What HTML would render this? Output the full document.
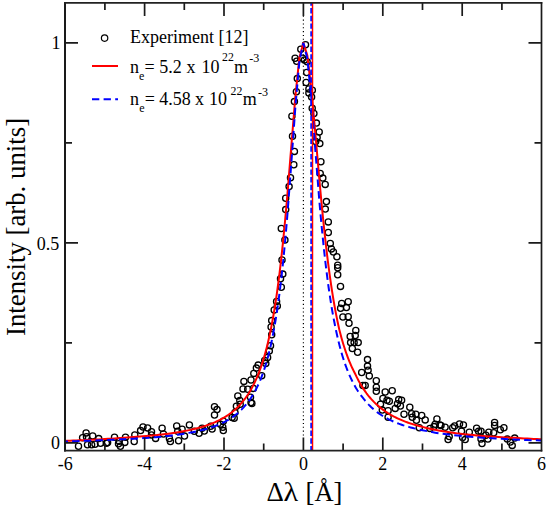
<!DOCTYPE html>
<html><head><meta charset="utf-8"><style>
html,body{margin:0;padding:0;background:#fff;width:550px;height:512px;overflow:hidden}
svg{display:block}
text{font-family:"Liberation Serif",serif;fill:#000}
</style></head><body>
<svg width="550" height="512" viewBox="0 0 550 512">
<rect width="550" height="512" fill="#fff"/>
<path d="M303.4,16 V437" stroke="#000" stroke-width="1.2" stroke-dasharray="1.1 2.7417" stroke-dashoffset="0.2917" fill="none"/>
<g fill="none" stroke="#000" stroke-width="1.3">
<circle cx="86.1" cy="432.9" r="3.1"/>
<circle cx="82.6" cy="437.8" r="3.1"/>
<circle cx="86.5" cy="436.8" r="3.1"/>
<circle cx="92.7" cy="435.9" r="3.1"/>
<circle cx="98.7" cy="438.6" r="3.1"/>
<circle cx="78.5" cy="446.3" r="3.1"/>
<circle cx="87.5" cy="444.7" r="3.1"/>
<circle cx="91.6" cy="444.8" r="3.1"/>
<circle cx="95" cy="444.2" r="3.1"/>
<circle cx="100.5" cy="443.3" r="3.1"/>
<circle cx="107.6" cy="442.6" r="3.1"/>
<circle cx="114.5" cy="437.2" r="3.1"/>
<circle cx="118.5" cy="443.7" r="3.1"/>
<circle cx="120.4" cy="446.3" r="3.1"/>
<circle cx="125.5" cy="437.2" r="3.1"/>
<circle cx="124.8" cy="442.4" r="3.1"/>
<circle cx="134.2" cy="441.5" r="3.1"/>
<circle cx="134.8" cy="435" r="3.1"/>
<circle cx="140.6" cy="430.6" r="3.1"/>
<circle cx="143" cy="427" r="3.1"/>
<circle cx="147.6" cy="427.9" r="3.1"/>
<circle cx="151.5" cy="431.8" r="3.1"/>
<circle cx="151.5" cy="434.9" r="3.1"/>
<circle cx="155.6" cy="438.4" r="3.1"/>
<circle cx="162.1" cy="428.3" r="3.1"/>
<circle cx="163.4" cy="434" r="3.1"/>
<circle cx="169.4" cy="438.5" r="3.1"/>
<circle cx="170.4" cy="441.5" r="3.1"/>
<circle cx="176.7" cy="425.9" r="3.1"/>
<circle cx="177.7" cy="431.2" r="3.1"/>
<circle cx="178.6" cy="440.8" r="3.1"/>
<circle cx="182.1" cy="429.3" r="3.1"/>
<circle cx="184.5" cy="436.1" r="3.1"/>
<circle cx="189.4" cy="424.9" r="3.1"/>
<circle cx="194.3" cy="431.2" r="3.1"/>
<circle cx="199.1" cy="433.2" r="3.1"/>
<circle cx="202.1" cy="428.3" r="3.1"/>
<circle cx="214.5" cy="406.7" r="3.1"/>
<circle cx="217" cy="409.6" r="3.1"/>
<circle cx="214.5" cy="415" r="3.1"/>
<circle cx="204.3" cy="431.1" r="3.1"/>
<circle cx="210.6" cy="426.2" r="3.1"/>
<circle cx="212.1" cy="429.1" r="3.1"/>
<circle cx="220.4" cy="424.3" r="3.1"/>
<circle cx="223.3" cy="421.3" r="3.1"/>
<circle cx="222.8" cy="427.2" r="3.1"/>
<circle cx="223.3" cy="430.6" r="3.1"/>
<circle cx="232.1" cy="417.4" r="3.1"/>
<circle cx="234.2" cy="418.2" r="3.1"/>
<circle cx="235" cy="412.6" r="3.1"/>
<circle cx="236.4" cy="406.2" r="3.1"/>
<circle cx="237.8" cy="395.9" r="3.1"/>
<circle cx="240.2" cy="404.3" r="3.1"/>
<circle cx="243" cy="388.9" r="3.1"/>
<circle cx="243.9" cy="381.4" r="3.1"/>
<circle cx="247.7" cy="389.3" r="3.1"/>
<circle cx="251" cy="380" r="3.1"/>
<circle cx="253.3" cy="388.4" r="3.1"/>
<circle cx="250.5" cy="397.3" r="3.1"/>
<circle cx="251" cy="402.5" r="3.1"/>
<circle cx="251.9" cy="403.4" r="3.1"/>
<circle cx="253.8" cy="373.4" r="3.1"/>
<circle cx="271.7" cy="320.6" r="3.1"/>
<circle cx="271.1" cy="327" r="3.1"/>
<circle cx="271.7" cy="334.7" r="3.1"/>
<circle cx="270.5" cy="345.8" r="3.1"/>
<circle cx="269.3" cy="351.1" r="3.1"/>
<circle cx="267.6" cy="357.5" r="3.1"/>
<circle cx="264.7" cy="360.4" r="3.1"/>
<circle cx="265.8" cy="363.4" r="3.1"/>
<circle cx="258.2" cy="365.1" r="3.1"/>
<circle cx="256.4" cy="368.1" r="3.1"/>
<circle cx="261.7" cy="375.7" r="3.1"/>
<circle cx="282" cy="260" r="3.1"/>
<circle cx="282.8" cy="274.1" r="3.1"/>
<circle cx="280.5" cy="278.8" r="3.1"/>
<circle cx="281.3" cy="287.3" r="3.1"/>
<circle cx="276.6" cy="301.4" r="3.1"/>
<circle cx="277.3" cy="306.1" r="3.1"/>
<circle cx="274.2" cy="310" r="3.1"/>
<circle cx="289.1" cy="186.6" r="3.1"/>
<circle cx="285.7" cy="198.3" r="3.1"/>
<circle cx="285.7" cy="209.6" r="3.1"/>
<circle cx="281.3" cy="228.5" r="3.1"/>
<circle cx="284.9" cy="240.1" r="3.1"/>
<circle cx="296.4" cy="91.8" r="3.1"/>
<circle cx="294.4" cy="101.6" r="3.1"/>
<circle cx="291.9" cy="116.3" r="3.1"/>
<circle cx="292.5" cy="136.2" r="3.1"/>
<circle cx="294.4" cy="151.4" r="3.1"/>
<circle cx="293.8" cy="164.7" r="3.1"/>
<circle cx="290.5" cy="177.8" r="3.1"/>
<circle cx="305.5" cy="44.8" r="3.1"/>
<circle cx="300.8" cy="49.3" r="3.1"/>
<circle cx="295.1" cy="58.2" r="3.1"/>
<circle cx="296.7" cy="61.2" r="3.1"/>
<circle cx="302.7" cy="58.2" r="3.1"/>
<circle cx="304.4" cy="60.1" r="3.1"/>
<circle cx="307.1" cy="61.7" r="3.1"/>
<circle cx="306.7" cy="72.5" r="3.1"/>
<circle cx="297.3" cy="78.6" r="3.1"/>
<circle cx="306.1" cy="82.5" r="3.1"/>
<circle cx="308.9" cy="88.9" r="3.1"/>
<circle cx="312.3" cy="90.3" r="3.1"/>
<circle cx="308.9" cy="93" r="3.1"/>
<circle cx="311.6" cy="97.1" r="3.1"/>
<circle cx="312.2" cy="108.3" r="3.1"/>
<circle cx="313.9" cy="113.5" r="3.1"/>
<circle cx="316.4" cy="123.1" r="3.1"/>
<circle cx="319.2" cy="132" r="3.1"/>
<circle cx="317.1" cy="137.5" r="3.1"/>
<circle cx="315.7" cy="141.6" r="3.1"/>
<circle cx="319.8" cy="143.6" r="3.1"/>
<circle cx="320.9" cy="161.7" r="3.1"/>
<circle cx="320.2" cy="173.4" r="3.1"/>
<circle cx="322.8" cy="178.1" r="3.1"/>
<circle cx="325.2" cy="184.4" r="3.1"/>
<circle cx="326.4" cy="201.6" r="3.1"/>
<circle cx="325.3" cy="209.1" r="3.1"/>
<circle cx="328.3" cy="221.9" r="3.1"/>
<circle cx="328.3" cy="232.5" r="3.1"/>
<circle cx="330.3" cy="243.4" r="3.1"/>
<circle cx="331.4" cy="248.9" r="3.1"/>
<circle cx="333.4" cy="252" r="3.1"/>
<circle cx="336.9" cy="256.7" r="3.1"/>
<circle cx="337.7" cy="265.3" r="3.1"/>
<circle cx="337.7" cy="267.7" r="3.1"/>
<circle cx="337.7" cy="274.7" r="3.1"/>
<circle cx="340.5" cy="286.4" r="3.1"/>
<circle cx="341.7" cy="303.5" r="3.1"/>
<circle cx="348.2" cy="301.7" r="3.1"/>
<circle cx="340.6" cy="308.2" r="3.1"/>
<circle cx="346.4" cy="307.6" r="3.1"/>
<circle cx="342.9" cy="317" r="3.1"/>
<circle cx="348.2" cy="316.7" r="3.1"/>
<circle cx="349" cy="323.2" r="3.1"/>
<circle cx="355.8" cy="330.4" r="3.1"/>
<circle cx="355.2" cy="335.5" r="3.1"/>
<circle cx="350.2" cy="336.5" r="3.1"/>
<circle cx="350.6" cy="342.6" r="3.1"/>
<circle cx="354.1" cy="342.6" r="3.1"/>
<circle cx="358.2" cy="342.6" r="3.1"/>
<circle cx="352.3" cy="348.5" r="3.1"/>
<circle cx="357.6" cy="352.3" r="3.1"/>
<circle cx="367.5" cy="359.6" r="3.1"/>
<circle cx="367.5" cy="366.1" r="3.1"/>
<circle cx="368.1" cy="370.2" r="3.1"/>
<circle cx="361.7" cy="372.5" r="3.1"/>
<circle cx="369.3" cy="376" r="3.1"/>
<circle cx="362.9" cy="385.4" r="3.1"/>
<circle cx="365.2" cy="385.4" r="3.1"/>
<circle cx="376.3" cy="380.7" r="3.1"/>
<circle cx="376.3" cy="387.2" r="3.1"/>
<circle cx="376.3" cy="391.3" r="3.1"/>
<circle cx="385.2" cy="392" r="3.1"/>
<circle cx="392.2" cy="390.8" r="3.1"/>
<circle cx="382.9" cy="398.4" r="3.1"/>
<circle cx="387" cy="400.2" r="3.1"/>
<circle cx="389.3" cy="401.3" r="3.1"/>
<circle cx="380.5" cy="404.3" r="3.1"/>
<circle cx="382.3" cy="410.1" r="3.1"/>
<circle cx="388.1" cy="410.7" r="3.1"/>
<circle cx="388.1" cy="417.2" r="3.1"/>
<circle cx="398.7" cy="399.6" r="3.1"/>
<circle cx="401.6" cy="400.2" r="3.1"/>
<circle cx="397.5" cy="403.7" r="3.1"/>
<circle cx="400.4" cy="406" r="3.1"/>
<circle cx="395.2" cy="408.4" r="3.1"/>
<circle cx="404" cy="414.2" r="3.1"/>
<circle cx="409.8" cy="407.2" r="3.1"/>
<circle cx="411.7" cy="413.7" r="3.1"/>
<circle cx="415.8" cy="414.3" r="3.1"/>
<circle cx="412.3" cy="417.2" r="3.1"/>
<circle cx="416.4" cy="420.2" r="3.1"/>
<circle cx="421.7" cy="415.5" r="3.1"/>
<circle cx="425.2" cy="419.9" r="3.1"/>
<circle cx="419.3" cy="427.8" r="3.1"/>
<circle cx="429.9" cy="428.4" r="3.1"/>
<circle cx="436.9" cy="419" r="3.1"/>
<circle cx="435.2" cy="424.3" r="3.1"/>
<circle cx="439.9" cy="424.9" r="3.1"/>
<circle cx="434" cy="426.6" r="3.1"/>
<circle cx="445.1" cy="427.2" r="3.1"/>
<circle cx="448.1" cy="439.5" r="3.1"/>
<circle cx="449.2" cy="436.6" r="3.1"/>
<circle cx="441" cy="425.4" r="3.1"/>
<circle cx="452.7" cy="427.8" r="3.1"/>
<circle cx="454.6" cy="425.9" r="3.1"/>
<circle cx="459.5" cy="423.9" r="3.1"/>
<circle cx="463.4" cy="424.9" r="3.1"/>
<circle cx="461.5" cy="431.3" r="3.1"/>
<circle cx="462.6" cy="437.5" r="3.1"/>
<circle cx="465.2" cy="439.6" r="3.1"/>
<circle cx="469.3" cy="432.2" r="3.1"/>
<circle cx="476.6" cy="428.3" r="3.1"/>
<circle cx="478.6" cy="431.3" r="3.1"/>
<circle cx="481" cy="439.1" r="3.1"/>
<circle cx="482" cy="443.5" r="3.1"/>
<circle cx="485.9" cy="435.2" r="3.1"/>
<circle cx="488.8" cy="432.2" r="3.1"/>
<circle cx="487.9" cy="439.1" r="3.1"/>
<circle cx="481" cy="431.3" r="3.1"/>
<circle cx="494.6" cy="422.5" r="3.1"/>
<circle cx="494.6" cy="425.4" r="3.1"/>
<circle cx="493.7" cy="432.7" r="3.1"/>
<circle cx="500.3" cy="429.8" r="3.1"/>
<circle cx="503.9" cy="427.8" r="3.1"/>
<circle cx="507.3" cy="439.1" r="3.1"/>
<circle cx="510.3" cy="442" r="3.1"/>
<circle cx="512.2" cy="445.4" r="3.1"/>
<circle cx="514.7" cy="438.1" r="3.1"/>
<circle cx="106.4" cy="443.3" r="3.1"/>
<circle cx="119.2" cy="441.3" r="3.1"/>
<circle cx="239.8" cy="400.5" r="3.1"/>
</g>
<path d="M65.20,440.89 L66.79,440.84 L69.96,440.72 L73.14,440.60 L76.32,440.48 L79.49,440.34 L82.67,440.20 L85.84,440.06 L89.02,439.91 L92.20,439.75 L95.37,439.58 L98.55,439.41 L101.72,439.22 L104.90,439.02 L108.08,438.86 L111.25,438.68 L114.43,438.49 L117.60,438.29 L120.78,438.08 L123.96,437.86 L127.13,437.62 L130.31,437.37 L133.48,437.11 L136.66,436.83 L139.84,436.59 L143.01,436.34 L146.19,436.08 L149.36,435.79 L152.54,435.49 L155.72,435.17 L158.89,434.83 L162.07,434.47 L165.24,434.08 L168.42,433.67 L171.60,433.22 L174.77,432.75 L177.95,432.24 L181.12,431.68 L184.30,431.09 L185.49,430.86 L186.68,430.63 L187.87,430.39 L189.06,430.14 L190.25,429.88 L191.45,429.62 L192.64,429.35 L193.83,429.07 L195.02,428.78 L196.21,428.48 L197.40,428.17 L198.59,427.85 L199.78,427.52 L200.97,427.18 L202.16,426.83 L203.36,426.47 L204.55,426.09 L205.74,425.71 L206.93,425.30 L208.12,424.89 L209.31,424.46 L210.50,424.01 L211.69,423.55 L212.88,423.07 L214.07,422.57 L215.27,422.05 L216.46,421.52 L217.65,420.96 L218.84,420.38 L220.03,419.78 L221.22,419.15 L222.41,418.50 L223.60,417.82 L224.79,417.11 L225.98,416.37 L227.18,415.60 L228.37,414.80 L229.56,413.96 L230.75,413.09 L231.94,412.17 L233.13,411.22 L234.32,410.21 L235.51,409.16 L236.70,408.07 L237.89,406.91 L239.09,405.70 L240.28,404.44 L241.47,403.10 L242.66,401.70 L243.85,400.23 L244.64,399.20 L245.44,398.14 L246.23,397.04 L247.03,395.90 L247.82,394.72 L248.61,393.49 L249.41,392.22 L250.20,390.91 L251.00,389.54 L251.79,388.12 L252.58,386.65 L253.38,385.12 L254.17,383.53 L254.97,381.88 L255.76,380.16 L256.55,378.37 L257.35,376.51 L258.14,374.57 L258.94,372.55 L259.73,370.45 L260.52,368.26 L261.32,365.98 L262.11,363.59 L262.91,361.11 L263.70,358.51 L264.49,355.80 L265.29,352.97 L266.08,350.02 L266.88,346.93 L267.67,343.70 L268.46,340.32 L269.26,336.79 L270.05,333.09 L270.85,329.23 L271.64,325.18 L272.43,320.95 L273.23,316.51 L274.02,311.87 L274.82,307.02 L275.61,301.93 L276.40,296.61 L277.20,291.05 L277.99,285.22 L278.79,279.13 L279.58,272.77 L280.37,266.13 L281.17,259.20 L281.96,251.97 L282.76,244.45 L283.55,236.62 L284.34,228.50 L285.14,220.08 L285.93,211.37 L286.73,202.38 L287.52,193.14 L291.49,144.10 L295.46,95.29 L299.43,57.47 L303.40,42.95 L307.37,55.65 L311.34,89.05 L315.31,133.10 L319.28,178.66 L320.07,187.41 L320.87,195.96 L321.66,204.30 L322.46,212.42 L323.25,220.29 L324.04,227.92 L324.84,235.30 L325.63,242.42 L326.43,249.29 L327.22,255.91 L328.01,262.28 L328.81,268.41 L329.60,274.29 L330.40,279.95 L331.19,285.37 L331.98,290.58 L332.78,295.58 L333.57,300.38 L334.37,304.97 L335.16,309.38 L335.95,313.61 L336.75,317.67 L337.54,321.56 L338.34,325.29 L339.13,328.87 L339.92,332.03 L340.72,335.07 L341.51,337.99 L342.31,340.79 L343.10,343.48 L343.89,346.06 L344.69,348.54 L345.48,350.93 L346.28,353.22 L347.07,355.43 L347.86,357.55 L348.66,359.60 L349.45,361.56 L350.25,363.46 L351.04,365.29 L351.83,367.05 L352.63,368.75 L353.42,370.39 L354.22,371.98 L355.01,373.50 L355.80,375.20 L356.60,376.84 L357.39,378.42 L358.19,379.95 L358.98,381.43 L359.77,382.86 L360.57,384.24 L361.36,385.58 L362.16,386.87 L362.95,388.12 L364.14,389.92 L365.33,391.63 L366.52,393.27 L367.71,394.83 L368.90,396.32 L370.10,397.74 L371.29,399.10 L372.48,400.40 L373.67,401.65 L374.86,402.84 L376.05,403.98 L377.24,405.08 L378.43,406.12 L379.62,407.13 L380.81,408.10 L382.01,409.02 L383.20,409.91 L384.39,410.77 L385.58,411.59 L386.77,412.38 L387.96,413.15 L389.15,413.88 L390.34,414.59 L391.53,415.27 L392.72,415.93 L393.92,416.56 L395.11,417.17 L396.30,417.76 L397.49,418.33 L398.68,418.88 L399.87,419.42 L401.06,419.93 L402.25,420.43 L403.44,420.91 L404.63,421.38 L405.83,421.83 L407.02,422.26 L408.21,422.69 L409.40,423.10 L410.59,423.49 L411.78,423.88 L412.97,424.25 L414.16,424.62 L415.35,424.97 L416.54,425.31 L417.74,425.64 L418.93,425.96 L420.12,426.28 L421.31,426.58 L422.50,426.88 L425.68,427.70 L428.85,428.46 L432.03,429.17 L435.20,429.83 L438.38,430.44 L441.56,431.01 L444.73,431.55 L447.91,432.05 L451.08,432.52 L454.26,432.96 L457.44,433.38 L460.61,433.77 L463.79,434.13 L466.96,434.48 L470.14,434.81 L473.32,435.11 L476.49,435.41 L479.67,435.68 L482.84,435.94 L486.02,436.18 L489.20,436.40 L492.37,436.62 L495.55,436.82 L498.72,437.02 L501.90,437.20 L505.08,437.38 L508.25,437.55 L511.43,437.71 L514.60,437.87 L517.78,438.07 L520.96,438.25 L524.13,438.43 L527.31,438.60 L530.48,438.76 L533.66,438.91 L536.84,439.05 L540.01,439.19 L541.60,439.26" fill="none" stroke="#f00" stroke-width="2" stroke-linejoin="round"/>
<path d="M65.20,441.47 L66.79,441.43 L69.96,441.33 L73.14,441.23 L76.32,441.13 L79.49,441.01 L82.67,440.90 L85.84,440.77 L89.02,440.66 L92.20,440.55 L95.37,440.43 L98.55,440.30 L101.72,440.16 L104.90,440.01 L108.08,439.89 L111.25,439.77 L114.43,439.63 L117.60,439.49 L120.78,439.34 L123.96,439.19 L127.13,439.02 L130.31,438.84 L133.48,438.66 L136.66,438.49 L139.84,438.31 L143.01,438.11 L146.19,437.91 L149.36,437.69 L152.54,437.46 L155.72,437.19 L158.89,436.91 L162.07,436.60 L165.24,436.28 L168.42,435.93 L171.60,435.55 L174.77,435.14 L177.95,434.71 L181.12,434.23 L184.30,433.72 L185.49,433.52 L186.68,433.31 L187.87,433.09 L189.06,432.87 L190.25,432.64 L191.45,432.41 L192.64,432.17 L193.83,431.93 L195.02,431.69 L196.21,431.44 L197.40,431.18 L198.59,430.91 L199.78,430.64 L200.97,430.35 L202.16,430.06 L203.36,429.75 L204.55,429.43 L205.74,429.10 L206.93,428.77 L208.12,428.41 L209.31,428.05 L210.50,427.67 L211.69,427.28 L212.88,426.87 L214.07,426.45 L215.27,426.01 L216.46,425.55 L217.65,425.07 L218.84,424.58 L220.03,424.06 L221.22,423.53 L222.41,422.97 L223.60,422.39 L224.79,421.78 L225.98,421.15 L227.18,420.48 L228.37,419.79 L229.56,419.07 L230.75,418.31 L231.94,417.52 L233.13,416.69 L234.32,415.82 L235.51,414.91 L236.70,413.96 L237.89,412.96 L239.09,411.90 L240.28,410.79 L241.47,409.63 L242.66,408.40 L243.85,407.11 L244.64,406.21 L245.44,405.27 L246.23,404.30 L247.03,403.30 L247.82,402.25 L248.61,401.21 L249.41,400.13 L250.20,399.01 L251.00,397.84 L251.79,396.63 L252.58,395.37 L253.38,394.06 L254.17,392.70 L254.97,391.28 L255.76,389.80 L256.55,388.26 L257.35,386.65 L258.14,384.98 L258.94,383.23 L259.73,381.41 L260.52,379.51 L261.32,377.52 L262.11,375.44 L262.91,373.26 L263.70,370.99 L264.49,368.61 L265.29,366.12 L266.08,363.51 L266.88,360.77 L267.67,357.90 L268.46,354.89 L269.26,351.73 L270.05,348.42 L270.85,344.93 L271.64,341.28 L272.43,337.43 L273.23,333.39 L274.02,329.15 L274.82,324.68 L275.61,319.98 L276.40,315.03 L277.20,309.83 L277.99,304.36 L278.79,298.61 L279.58,292.55 L280.37,286.19 L281.17,279.51 L281.96,272.48 L282.76,265.12 L283.55,257.39 L284.34,249.30 L285.14,240.85 L285.93,232.02 L286.73,222.83 L287.52,213.28 L291.49,160.91 L295.46,105.79 L299.43,60.80 L303.40,42.95 L307.37,58.60 L311.34,98.86 L315.31,149.88 L319.28,200.12 L320.07,209.20 L320.87,217.99 L321.66,226.46 L322.46,234.61 L323.25,242.45 L324.04,249.97 L324.84,257.17 L325.63,264.07 L326.43,270.67 L327.22,276.97 L328.01,282.99 L328.81,288.74 L329.60,294.23 L330.40,299.47 L331.19,304.47 L331.98,309.24 L332.78,313.80 L333.57,318.15 L334.37,322.29 L335.16,326.25 L335.95,330.11 L336.75,333.79 L337.54,337.31 L338.34,340.67 L339.13,343.88 L339.92,346.96 L340.72,349.90 L341.51,352.71 L342.31,355.41 L343.10,357.99 L343.89,360.46 L344.69,362.83 L345.48,365.10 L346.28,367.27 L347.07,369.36 L347.86,371.37 L348.66,373.30 L349.45,375.15 L350.25,376.93 L351.04,378.64 L351.83,380.28 L352.63,381.86 L353.42,383.39 L354.22,384.86 L355.01,386.27 L355.80,387.63 L356.60,388.94 L357.39,390.21 L358.19,391.43 L358.98,392.61 L359.77,393.75 L360.57,394.85 L361.36,395.91 L362.16,396.94 L362.95,397.93 L364.14,399.46 L365.33,400.92 L366.52,402.30 L367.71,403.63 L368.90,404.88 L370.10,406.08 L371.29,407.23 L372.48,408.32 L373.67,409.37 L374.86,410.36 L376.05,411.32 L377.24,412.23 L378.43,413.11 L379.62,413.95 L380.81,414.75 L382.01,415.52 L383.20,416.26 L384.39,416.98 L385.58,417.66 L386.77,418.31 L387.96,418.95 L389.15,419.55 L390.34,420.14 L391.53,420.70 L392.72,421.24 L393.92,421.76 L395.11,422.27 L396.30,422.75 L397.49,423.22 L398.68,423.68 L399.87,424.11 L401.06,424.53 L402.25,424.94 L403.44,425.34 L404.63,425.72 L405.83,426.09 L407.02,426.44 L408.21,426.79 L409.40,427.13 L410.59,427.45 L411.78,427.76 L412.97,428.07 L414.16,428.36 L415.35,428.65 L416.54,428.93 L417.74,429.20 L418.93,429.46 L420.12,429.72 L421.31,429.96 L422.50,430.20 L425.68,430.88 L428.85,431.51 L432.03,432.10 L435.20,432.64 L438.38,433.15 L441.56,433.62 L444.73,434.06 L447.91,434.47 L451.08,434.85 L454.26,435.21 L457.44,435.55 L460.61,435.86 L463.79,436.16 L466.96,436.44 L470.14,436.71 L473.32,436.96 L476.49,437.19 L479.67,437.43 L482.84,437.67 L486.02,437.90 L489.20,438.12 L492.37,438.32 L495.55,438.52 L498.72,438.70 L501.90,438.87 L505.08,439.04 L508.25,439.21 L511.43,439.37 L514.60,439.52 L517.78,439.67 L520.96,439.81 L524.13,439.94 L527.31,440.05 L530.48,440.15 L533.66,440.24 L536.84,440.33 L540.01,440.41 L541.60,440.45" fill="none" stroke="#00f" stroke-width="2" stroke-dasharray="7.5 4.18" stroke-dashoffset="4.78"/>
<path d="M312.5,3 V450" stroke="#f00" stroke-width="1.5"/>
<path d="M311.1,3 V450" stroke="#00f" stroke-width="1.6" stroke-dasharray="5.4 2.281" stroke-dashoffset="2.581"/>
<path d="M104.9,450.6 V443.6 M104.9,3 V10 M144.6,450.6 V437.6 M144.6,3 V16 M184.3,450.6 V443.6 M184.3,3 V10 M224.0,450.6 V437.6 M224.0,3 V16 M263.7,450.6 V443.6 M263.7,3 V10 M303.4,450.6 V437.6 M303.4,3 V16 M343.1,450.6 V443.6 M343.1,3 V10 M382.8,450.6 V437.6 M382.8,3 V16 M422.5,450.6 V443.6 M422.5,3 V10 M462.2,450.6 V437.6 M462.2,3 V16 M501.9,450.6 V443.6 M501.9,3 V10 M65,442.8 H78 M541.5,442.8 H528.5 M65,342.8 H72 M541.5,342.8 H534.5 M65,242.8 H78 M541.5,242.8 H528.5 M65,142.9 H72 M541.5,142.9 H534.5 M65,42.9 H78 M541.5,42.9 H528.5" stroke="#1a1a1a" stroke-width="1.7" fill="none"/>
<path d="M65,2 V451.4" stroke="#1a1a1a" stroke-width="2"/>
<path d="M64,2.9 H542.3" stroke="#222" stroke-width="1.7"/>
<path d="M64,450.6 H542.3" stroke="#222" stroke-width="1.7"/>
<path d="M541.5,2 V451.4" stroke="#1a1a1a" stroke-width="1.7"/>
<g font-size="18">
<text x="65.2" y="469.5" text-anchor="middle">-6</text><text x="144.6" y="469.5" text-anchor="middle">-4</text><text x="224.0" y="469.5" text-anchor="middle">-2</text><text x="303.4" y="469.5" text-anchor="middle">0</text><text x="382.8" y="469.5" text-anchor="middle">2</text><text x="462.2" y="469.5" text-anchor="middle">4</text><text x="541.6" y="469.5" text-anchor="middle">6</text>
<text x="60" y="449.2" text-anchor="end">0</text>
<text x="59.2" y="249.5" text-anchor="end">0.5</text>
<text x="60.5" y="49.2" text-anchor="end">1</text>
</g>
<text x="266.6" y="500.5" font-size="27">Δ</text><text transform="translate(283.6,500.6) scale(1.08,1)" font-size="28">λ</text><text x="305.6" y="500.6" font-size="26.5">[Å]</text>
<text transform="translate(24.6,336) rotate(-90)" font-size="26.8">Intensity [arb. units]</text>
<circle cx="104.6" cy="38.1" r="3.2" fill="none" stroke="#000" stroke-width="1.2"/>
<text x="130" y="42.8" font-size="18">Experiment [12]</text>
<path d="M92,66 H118" stroke="#f00" stroke-width="2"/>
<path d="M92,99.3 H118" stroke="#00f" stroke-width="2" stroke-dasharray="7.3 4.3"/>
<text y="72.5" font-size="18"><tspan x="130">n</tspan><tspan x="138.9" y="79.6" font-size="12">e</tspan><tspan x="144.4" y="72.5">=</tspan><tspan x="159.2">5.2</tspan><tspan x="186.4">x</tspan><tspan x="201.4">10</tspan><tspan x="222" y="60.9" font-size="11.8">22</tspan><tspan x="234" y="72.5">m</tspan><tspan x="249.3" y="61.6" font-size="12.1">-3</tspan></text>
<text y="105.2" font-size="18"><tspan x="130">n</tspan><tspan x="139.2" y="112.3" font-size="12">e</tspan><tspan x="144.8" y="105.2">=</tspan><tspan x="159.2">4.58</tspan><tspan x="195">x</tspan><tspan x="209">10</tspan><tspan x="230.6" y="95.1" font-size="11.8">22</tspan><tspan x="242.8" y="105.2">m</tspan><tspan x="258.1" y="95.9" font-size="12.1">-3</tspan></text>
</svg>
</body></html>
